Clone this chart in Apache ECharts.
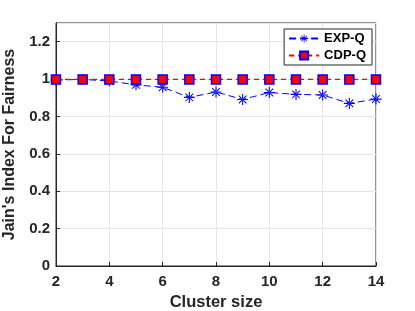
<!DOCTYPE html>
<html><head><meta charset="utf-8">
<script src="https://cdn.jsdelivr.net/npm/echarts@6/dist/echarts.min.js"></script>
<style>html,body{margin:0;padding:0;background:#fff}#c{width:415px;height:311px}</style>
</head><body><div id="c"></div>
<script>
const clusterSizes = [2,3,4,5,6,7,8,9,10,11,12,13,14];
const expQ = [0.995,0.998,0.99,0.969,0.956,0.902,0.931,0.891,0.928,0.918,0.915,0.87,0.893];
const cdpQ = [0.998,0.998,0.998,0.998,0.998,0.998,0.998,0.998,0.998,0.998,0.998,0.998,0.998];
const yTicks = [0,0.2,0.4,0.6,0.8,1,1.2];

const star = 'path://M-0.6,-6 L0.6,-6 L0.6,6 L-0.6,6 Z M-6,-0.6 L6,-0.6 L6,0.6 L-6,0.6 Z M-4.6,-3.8 L-3.8,-4.6 L4.6,3.8 L3.8,4.6 Z M4.6,-3.8 L3.8,-4.6 L-4.6,3.8 L-3.8,4.6 Z';
const font = 'Liberation Sans';
const chart = echarts.init(document.getElementById('c'), null, {renderer:'canvas'});
chart.setOption({
  animation:false,
  backgroundColor:'#fff',
  grid:{left:56,right:39,top:23,bottom:45,show:true,borderColor:'#262626',borderWidth:1,outerBoundsMode:'none',containLabel:false},
  legend:{
    orient:'vertical', right:43, top:29, itemGap:4, itemWidth:30, itemHeight:10,
    borderColor:'#262626', borderWidth:1, backgroundColor:'#fff', padding:[3,6,3,4],
    textStyle:{fontFamily:font,fontWeight:'bold',fontSize:13,color:'#000'},
    data:['EXP-Q','CDP-Q']
  },
  xAxis:{
    type:'value', min:2, max:14, interval:2,
    name:'Cluster size', nameLocation:'middle', nameGap:27,
    nameTextStyle:{fontFamily:font,fontWeight:'bold',fontSize:16.5,color:'#262626'},
    axisLine:{show:true,lineStyle:{color:'#262626'}},
    axisTick:{inside:true,length:4,lineStyle:{color:'#262626'}},
    axisLabel:{fontFamily:font,fontWeight:'bold',fontSize:15,color:'#262626',margin:8},
    splitLine:{show:true,lineStyle:{color:'#e6e6e6',width:1}}
  },
  yAxis:{
    type:'value', min:0, max:1.3, interval:0.2,
    name:"Jain's Index For Fairness", nameLocation:'middle', nameGap:38,
    nameTextStyle:{fontFamily:font,fontWeight:'bold',fontSize:16,color:'#262626'},
    axisLine:{show:true,lineStyle:{color:'#262626'}},
    axisTick:{inside:true,length:4,lineStyle:{color:'#262626'}},
    axisLabel:{fontFamily:font,fontWeight:'bold',fontSize:15,color:'#262626',margin:6,showMaxLabel:false,
      formatter:v=> yTicks.indexOf(Math.round(v*10)/10)>=0 ? String(Math.round(v*10)/10) : ''},
    splitLine:{show:true,lineStyle:{color:'#e6e6e6',width:1}}
  },
  series:[
    {name:'EXP-Q',type:'line',data:clusterSizes.map((x,i)=>[x,expQ[i]]),
     symbol:star,symbolSize:11,
     itemStyle:{color:'#0000ff'},lineStyle:{color:'#0000ff',width:1,type:[7,4]},z:2},
    {name:'CDP-Q',type:'line',data:clusterSizes.map((x,i)=>[x,cdpQ[i]]),
     symbol:'rect',symbolSize:9,
     itemStyle:{color:'#ff0000',borderColor:'#0000ff',borderWidth:1.5},
     lineStyle:{color:'#ff0000',width:1.3,type:[5,4]},z:3}
  ]
});
</script></body></html>
